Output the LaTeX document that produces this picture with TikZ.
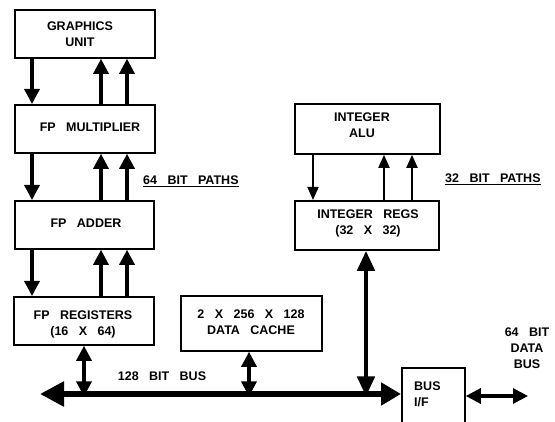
\documentclass[tikz,border=0pt]{standalone}
\usepackage{fontspec}
\setmainfont{Liberation Sans}[WordSpace=3]
\usetikzlibrary{arrows.meta}
\tikzset{
  blk/.style={draw, line width=1.8pt, inner sep=0pt, anchor=north west},
  lbl/.style={font=\bfseries\fontsize{12.5}{16}\selectfont, align=center, inner sep=0pt},
  fparr/.style={line width=3.2pt, -{Triangle[width=15pt,length=15pt]}},
  intarr/.style={line width=1.8pt, -{Triangle[width=11pt,length=13pt]}},
  busarr/.style={line width=5.5pt, {Triangle[width=24pt,length=24pt]}-{Triangle[width=22pt,length=20pt]}},
  dbl/.style={line width=3.2pt, {Triangle[width=15pt,length=15pt]}-{Triangle[width=15pt,length=15pt]}},
  dblthick/.style={line width=4.5pt, {Triangle[width=17pt,length=20pt]}-{Triangle[width=17pt,length=20pt]}},
}
\begin{document}
\begin{tikzpicture}[x=1pt,y=-1pt]
\useasboundingbox (0,0) rectangle (555,422);
% boxes
\node[blk, minimum width=140pt, minimum height=48pt] (gu) at (14,9) {};
\node[blk, minimum width=140pt, minimum height=48pt] (fpm) at (14,104) {};
\node[blk, minimum width=139pt, minimum height=48pt] (fpa) at (14,200) {};
\node[blk, minimum width=140pt, minimum height=48pt] (fpr) at (13,296) {};
\node[blk, minimum width=141pt, minimum height=55pt] (dc) at (180,295) {};
\node[blk, minimum width=145pt, minimum height=50pt] (ialu) at (294,103) {};
\node[blk, minimum width=144pt, minimum height=49pt] (ireg) at (294,200) {};
\node[blk, minimum width=63pt, minimum height=58pt] (bif) at (401,367) {};
% labels
\node[lbl] (t1) at (80,34) {GRAPHICS\\UNIT};
\node[lbl] (t2) at (90,127) {FP MULTIPLIER};
\node[lbl] (t3) at (86,223) {FP ADDER};
\node[lbl] (t4) at (83,324) {FP REGISTERS\\(16 X 64)};
\node[lbl] (t5) at (251,322) {2 X 256 X 128\\DATA CACHE};
\node[lbl] (t6) at (362,125) {INTEGER\\ALU};
\node[lbl] (t7) at (368,223) {INTEGER REGS\\(32 X 32)};
\node[lbl, align=left, anchor=west] (t8) at (414,394) {BUS\\I/F};
\node[lbl] (t9) at (162,376) {128 BIT BUS};
\node[lbl, anchor=west] (t10) at (143,181) {\underline{64 BIT PATHS}};
\node[lbl, anchor=west] (t11) at (445,179) {\underline{32 BIT PATHS}};
\node[lbl] (t12) at (527,348) {64 BIT\\DATA\\BUS};
% coordinates on bus
\coordinate (busL) at (40,394);
\coordinate (busR) at (401,394);
\coordinate (bFP) at (84,394);
\coordinate (bDC) at (249,394);
\coordinate (bIR) at (366,394);
\coordinate (dbR) at (528,396);
% FP paths
\foreach \a/\b in {gu/fpm, fpm/fpa, fpa/fpr}{
  \draw[fparr] (\a.south west -| 32,0) -- (\b.north west -| 32,0);
  \draw[fparr] (\b.north west -| 101,0) -- (\a.south west -| 101,0);
  \draw[fparr] (\b.north west -| 127,0) -- (\a.south west -| 127,0);
}
% integer paths
\draw[intarr] (ialu.south west -| 313,0) -- (ireg.north west -| 313,0);
\draw[intarr] (ireg.north west -| 384,0) -- (ialu.south west -| 384,0);
\draw[intarr] (ireg.north west -| 412,0) -- (ialu.south west -| 412,0);
% bus
\draw[busarr] (busL) -- (busR);
\draw[dbl] (fpr.south west -| bFP) -- ([yshift=-2.5pt]bFP);
\draw[dbl] (dc.south west -| bDC) -- ([yshift=-2.5pt]bDC);
\draw[dblthick] (ireg.south west -| bIR) -- ([yshift=-2.5pt]bIR);
\draw[dbl] (bif.east |- dbR) -- (dbR);
\end{tikzpicture}
\end{document}
